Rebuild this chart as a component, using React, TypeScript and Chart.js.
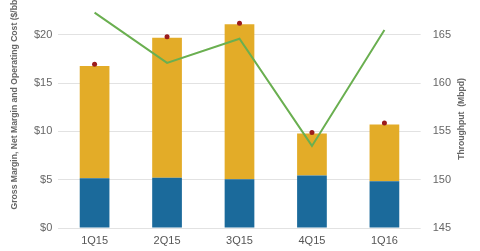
import React, { useEffect, useRef } from "react";
import { Chart, registerables } from "chart.js";

Chart.register(...registerables);

const labels = ["1Q15", "2Q15", "3Q15", "4Q15", "1Q16"];
const operatingCost = [5.15, 5.2, 5.05, 5.45, 4.83];
const netMargin = [11.62, 14.5, 16.05, 4.35, 5.9];
const grossMargin = [16.95, 19.8, 21.2, 9.9, 10.87];
const throughput = [167.3, 162.1, 164.6, 153.5, 165.5];
const leftTicks = [0, 5, 10, 15, 20];
const rightTicks = [145, 150, 155, 160, 165];
const leftTitle = "Gross Margin, Net Margin and Operating Cost ($/bbl)";
const rightTitle = "Throughput  (Mbpd)";

const FONT = "'Liberation Sans', Arial, sans-serif";

const titlesPlugin = {
  id: "axisTitles",
  afterDraw(chart: any) {
    const { ctx, chartArea } = chart;
    ctx.save();
    ctx.fillStyle = "#666";
    ctx.font = `bold 8.6px ${FONT}`;
    ctx.textAlign = "center";
    ctx.textBaseline = "middle";
    ctx.save();
    ctx.translate(15, chartArea.bottom - 126);
    ctx.rotate(-Math.PI / 2);
    ctx.fillText(leftTitle, 0, 0);
    ctx.restore();
    ctx.save();
    ctx.translate(462, chartArea.bottom - 109);
    ctx.rotate(-Math.PI / 2);
    ctx.fillText(rightTitle, 0, 0);
    ctx.restore();
    ctx.restore();
  },
};

const noPad = (scale: any) => {
  scale.paddingTop = 0;
  scale.paddingBottom = 0;
};

export default function App() {
  const ref = useRef<HTMLCanvasElement | null>(null);
  useEffect(() => {
    document.body.style.margin = "0";
    const ctx = ref.current!.getContext("2d")!;
    const chart = new Chart(ctx, {
      type: "bar",
      data: {
        labels,
        datasets: [
          {
            type: "line",
            label: "Throughput",
            data: throughput,
            yAxisID: "y1",
            borderColor: "#6aaf50",
            borderWidth: 2,
            pointRadius: 0,
            tension: 0,
            fill: false,
          } as any,
          {
            type: "line",
            label: "Gross Margin",
            data: grossMargin,
            yAxisID: "y",
            stack: "dots",
            showLine: false,
            pointRadius: 2.5,
            pointBackgroundColor: "#9b1c1c",
            pointBorderColor: "#9b1c1c",
            pointBorderWidth: 0,
          } as any,
          {
            label: "Operating Cost",
            data: operatingCost,
            backgroundColor: "#1b6a9b",
            stack: "bars",
            yAxisID: "y",
            categoryPercentage: 1,
            barPercentage: 0.41,
          },
          {
            label: "Net Margin",
            data: netMargin,
            backgroundColor: "#e3ac28",
            stack: "bars",
            yAxisID: "y",
            categoryPercentage: 1,
            barPercentage: 0.41,
          },
        ],
      },
      options: {
        animation: false,
        responsive: false,
        maintainAspectRatio: false,
        layout: { padding: { top: 0, right: 17, bottom: 4, left: 28 } },
        plugins: { legend: { display: false }, tooltip: { enabled: false } },
        scales: {
          x: {
            stacked: true,
            offset: true,
            afterFit: (scale: any) => {
              scale.height = 19;
            },
            grid: { display: false, drawTicks: false, tickLength: 0 },
            border: { display: false },
            ticks: { color: "#555", font: { family: FONT, size: 11 }, padding: 6 },
          },
          y: {
            stacked: true,
            position: "left",
            min: 0,
            max: 23.2,
            afterBuildTicks: (scale: any) => {
              scale.ticks = leftTicks.map((v) => ({ value: v }));
            },
            afterFit: noPad,
            ticks: {
              color: "#666",
              font: { family: FONT, size: 11 },
              padding: 6,
              callback: (v: any) => "$" + v,
            },
            grid: { color: "#e2e2e2", drawTicks: false },
            border: { display: false },
          },
          y1: {
            position: "right",
            min: 145,
            max: 168.2,
            afterBuildTicks: (scale: any) => {
              scale.ticks = rightTicks.map((v) => ({ value: v }));
            },
            afterFit: noPad,
            ticks: { color: "#666", font: { family: FONT, size: 11 }, padding: 12 },
            grid: { display: false, drawTicks: false },
            border: { display: false },
          },
        },
      },
      plugins: [titlesPlugin],
    });
    return () => chart.destroy();
  }, []);
  return (
    <div style={{ position: "absolute", left: 0, top: 0, width: 480, height: 251 }}>
      <canvas ref={ref} width={480} height={251} />
    </div>
  );
}
